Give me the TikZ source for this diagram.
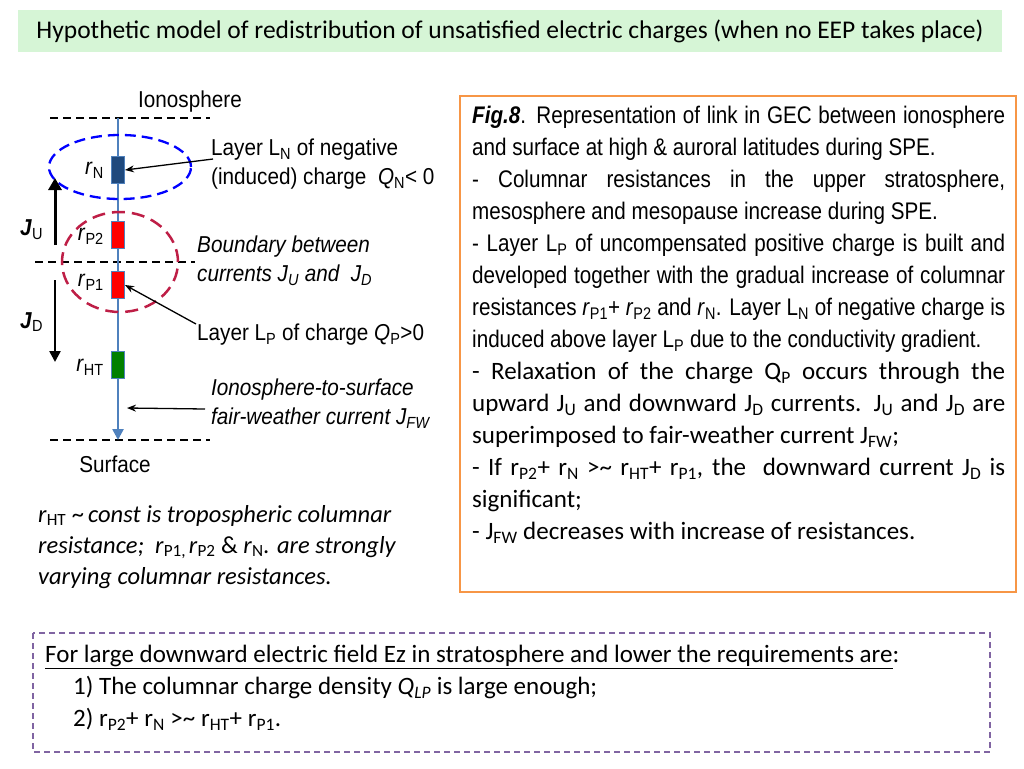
\documentclass[tikz,border=0pt]{standalone}
\usepackage{fontspec}
\setmainfont{Carlito}
\newfontfamily\arl[FakeStretch=0.9]{Liberation Sans}
\newfontfamily\arn[FakeStretch=0.86]{Liberation Sans}
\usetikzlibrary{arrows.meta}
\definecolor{ttl}{RGB}{214,245,214}
\definecolor{navyb}{RGB}{31,73,125}
\definecolor{lineb}{RGB}{79,129,189}
\definecolor{crim}{RGB}{190,30,70}
\definecolor{orng}{RGB}{247,150,70}
\definecolor{purp}{RGB}{128,100,162}
\definecolor{grn}{RGB}{0,128,0}
\begin{document}
\begin{tikzpicture}[x=1pt,y=-1pt,
  res/.style={draw=lineb,line width=1pt,minimum width=13pt,minimum height=27pt,inner sep=0pt},
  lvl/.style={dashed,dash pattern=on 8pt off 5pt,line width=1.3pt},
  lab/.style={font=\arl\fontsize{23}{25}\selectfont,inner sep=0pt,anchor=west,align=left},
  ptr/.style={-{Stealth[length=9pt,width=7pt]},line width=1.3pt}]
\useasboundingbox (0,0) rectangle (1024,768);
\node[fill=ttl,minimum width=984pt,minimum height=42pt,inner sep=0pt] (title) at (510,31)
  {\fontsize{25.5}{28}\selectfont Hypothetic model of redistribution of unsatisfied electric charges (when no EEP takes place)};
% levels
\draw[lvl] (50,118) -- (210,118);
\draw[lvl] (35,262) -- (195,262);
\draw[lvl] (50,440) -- (210,440);
\node[lab,anchor=center] (iono) at (190,102) {Ionosphere};
\node[lab,anchor=center] (surf) at (115,464) {Surface};
\coordinate (top) at (118,118);
\coordinate (bot) at (118,440);
\draw[lineb,line width=2.5pt,-{Triangle[length=11pt,width=11pt]}] (top) -- (bot);
\node[res,fill=navyb] (rN) at (118,170) {};
\node[res,fill=red] (rP2) at (118,235) {};
\node[res,fill=red] (rP1) at (118,285) {};
\node[res,fill=grn] (rHT) at (118,365) {};
\node[lab,anchor=east] at (104,170) {\textit{r}\textsubscript{N}};
\node[lab,anchor=east] at (104,236) {\textit{r}\textsubscript{P2}};
\node[lab,anchor=east] at (104,282) {\textit{r}\textsubscript{P1}};
\node[lab,anchor=east] at (104,367) {\textit{r}\textsubscript{HT}};
\draw[blue,dashed,dash pattern=on 11pt off 6pt,line width=2.3pt] (120,167) ellipse (71pt and 32pt);
\draw[crim,dashed,dash pattern=on 13pt off 7pt,line width=2.5pt] (120,262) ellipse (58pt and 50pt);
\coordinate (ju1) at (55,245); \coordinate (ju2) at (55,178);
\coordinate (jd1) at (55,280); \coordinate (jd2) at (55,362);
\draw[line width=3pt,-{Triangle[length=12pt,width=13pt]}] (ju1) -- (ju2);
\draw[line width=2.5pt,-{Triangle[length=11pt,width=11pt]}] (jd1) -- (jd2);
\node[lab] (JU) at (20,230) {\textbf{\textit{J}}\textsubscript{U}};
\node[lab] (JD) at (20,322) {\textbf{\textit{J}}\textsubscript{D}};
\node[lab] (LN) at (211,164) {Layer L\textsubscript{N} of negative\\[4pt](induced) charge \ \textit{Q}\textsubscript{N}< 0};
\node[lab] (bnd) at (197,261) {\textit{Boundary between}\\[4pt]\textit{currents J\textsubscript{U} and \ J\textsubscript{D}}};
\node[lab] (LP) at (197,335) {Layer L\textsubscript{P} of charge \textit{Q}\textsubscript{P}>0};
\node[lab] (fw) at (211,404) {\textit{Ionosphere-to-surface}\\[4pt]\textit{fair-weather current J\textsubscript{FW}}};
\draw[ptr] (213,159) -- (rN.east);
\draw[ptr] (196,324) -- (rP1.east);
\draw[ptr] (205,409) -- (127,408);
\node[anchor=north west,inner sep=0pt,align=left,font=\fontsize{24.5}{31}\selectfont] (note) at (38,505)
{\textit{r}\textsubscript{HT} \textasciitilde\,\textit{const is tropospheric columnar}\\
\textit{resistance; \ r}\textsubscript{P1,\,}\textit{r}\textsubscript{P2} \& \textit{r}\textsubscript{N}\textit{. are strongly}\\
\textit{varying columnar resistances.}};
% right box
\draw[orng,line width=1.5pt] (460,96) rectangle (1016,592);
\node[anchor=north west,inner sep=0pt,text width=533pt,align=justify,font=\fontsize{25}{32}\selectfont] (txt) at (472,106)
{\hyphenpenalty=10000\exhyphenpenalty=10000
{\arn\fontsize{24}{32}\selectfont\textbf{\textit{Fig.8}}. Representation of link in GEC between ionosphere and surface at high \& auroral latitudes during SPE.\par
 - Columnar resistances in the upper stratosphere, mesosphere and mesopause increase during SPE.\par
 - Layer L\textsubscript{P} of uncompensated positive charge is built and developed together with the gradual increase of columnar resistances \textit{r}\textsubscript{P1}+ \textit{r}\textsubscript{P2} and \textit{r}\textsubscript{N}. Layer L\textsubscript{N} of negative charge is induced above layer L\textsubscript{P} due to the conductivity gradient.\par}
 - Relaxation of the charge Q\textsubscript{P} occurs through the upward J\textsubscript{U} and downward J\textsubscript{D} currents. J\textsubscript{U} and J\textsubscript{D} are superimposed to fair-weather current J\textsubscript{FW};\par
 - If r\textsubscript{P2}+ r\textsubscript{N} >\textasciitilde{} r\textsubscript{HT}+ r\textsubscript{P1}, the \ downward current J\textsubscript{D} is significant;\par
 - J\textsubscript{FW} decreases with increase of resistances.};
% bottom box
\draw[purp,dashed,dash pattern=on 6pt off 4pt,line width=1.3pt] (33,633) rectangle (990,752);
\node[anchor=north west,inner sep=0pt,align=left,font=\fontsize{25}{32}\selectfont] (req) at (45,645)
{\underline{For large downward electric field Ez in stratosphere and lower the requirements are}:\\
\hspace*{28pt}1) The columnar charge density \textit{Q\textsubscript{LP}} is large enough;\\
\hspace*{28pt}2) r\textsubscript{P2}+ r\textsubscript{N} >\textasciitilde{} r\textsubscript{HT}+ r\textsubscript{P1}.};
\end{tikzpicture}
\end{document}
